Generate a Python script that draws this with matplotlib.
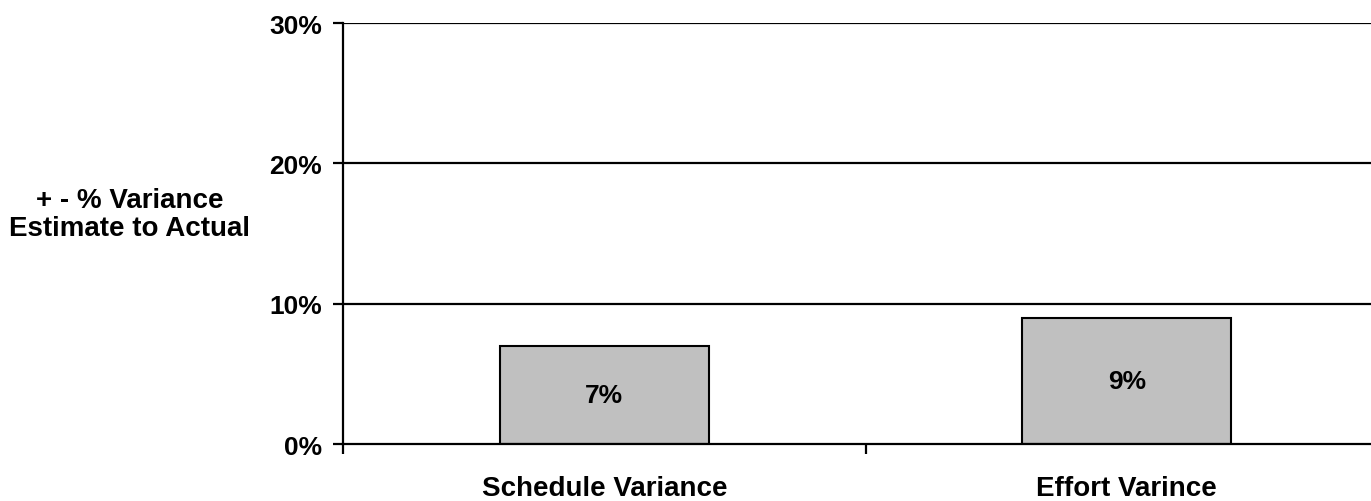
import matplotlib
matplotlib.use("Agg")
import matplotlib.pyplot as plt
from matplotlib.ticker import FixedLocator

plt.rcParams['font.family'] = ['Liberation Sans', 'DejaVu Sans']
plt.rcParams['font.weight'] = 'bold'

categories = ["Schedule Variance", "Effort Varince"]
values = [7, 9]
y_ticks = [0, 10, 20, 30]
y_tick_labels = ["0%", "10%", "20%", "30%"]
y_label = "+ - % Variance\nEstimate to Actual"

fig = plt.figure(figsize=(13.71, 5.02), dpi=100)
ax = fig.add_axes([0.2502, 0.1135, 0.7622, 0.8386])

x = list(range(len(categories)))
ax.bar(x, values, width=0.4, color="#C0C0C0", edgecolor="black",
       linewidth=1.5, zorder=3)

for xi, v in zip(x, values):
    ax.text(xi, v / 2, f"{v}%", ha="center", va="center",
            fontsize=19, fontweight="bold", zorder=4)

ax.set_xlim(-0.5, len(categories) - 0.5)
ax.set_ylim(0, 30)

# Horizontal gridlines at each major y tick
for t in y_ticks[1:]:
    ax.axhline(t, color="black", linewidth=1.6, zorder=1)

ax.set_yticks(y_ticks)
ax.set_yticklabels(y_tick_labels, fontsize=19, fontweight="bold")
ax.tick_params(axis="y", direction="out", length=7, width=1.6, pad=8)

# Category labels centred on bars, tick marks between categories
ax.set_xticks(x)
ax.set_xticklabels(categories, fontsize=20, fontweight="bold")
ax.tick_params(axis="x", which="major", length=0, pad=22)
ax.xaxis.set_minor_locator(FixedLocator([-0.5, 0.5, 1.5]))
ax.tick_params(axis="x", which="minor", direction="out", length=7.5, width=1.6)

for side in ("top", "right"):
    ax.spines[side].set_visible(False)
for side in ("left", "bottom"):
    ax.spines[side].set_linewidth(1.6)
    ax.spines[side].set_zorder(5)

fig.text(0.0948, 0.5717, y_label, ha="center", va="center",
         multialignment="center", fontsize=20, fontweight="bold",
         linespacing=1.1)

fig.savefig("out.png", dpi=100)
